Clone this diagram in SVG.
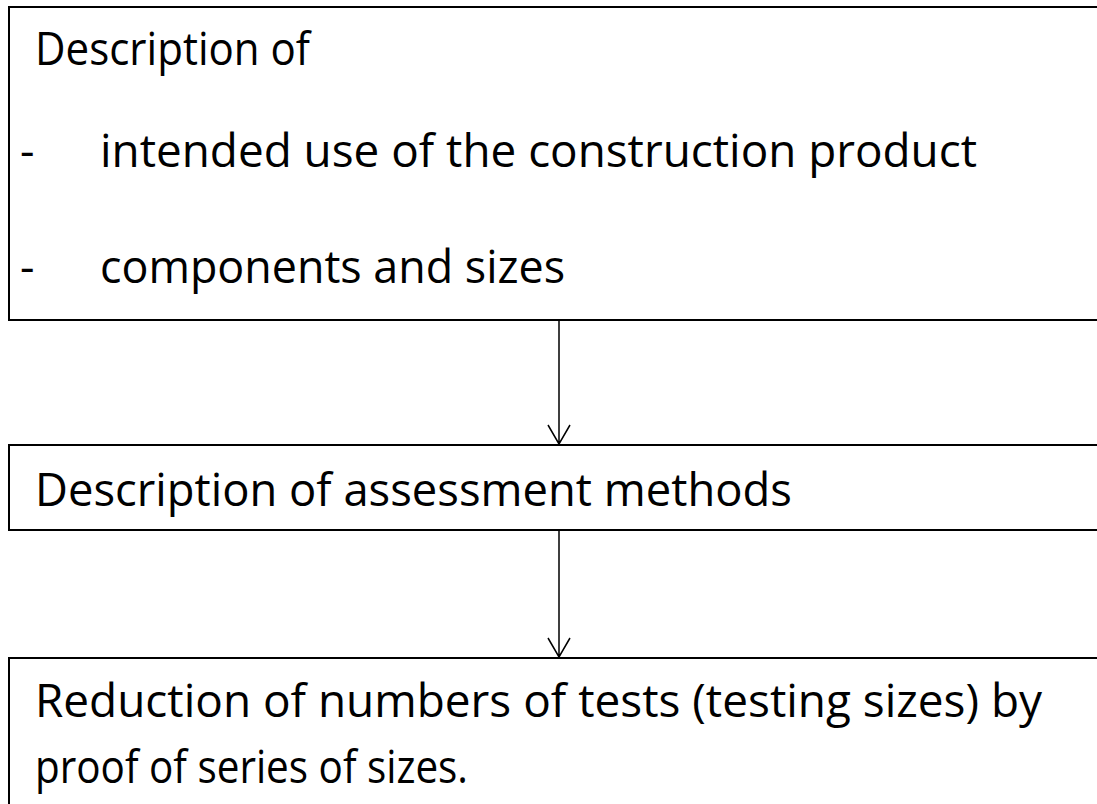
<svg xmlns="http://www.w3.org/2000/svg" width="1097" height="804" viewBox="0 0 1097 804">
<style>
.box{fill:#fff;stroke:#000;stroke-width:2}
.t{font-family:"Open Sans","Noto Sans","Liberation Sans",sans-serif;font-size:45px;fill:#000}
.c{stroke:#000;stroke-width:1.5;fill:none}
</style>
<rect width="1097" height="804" fill="#fff"/>
<g id="node1">
<rect class="box" x="9" y="7" width="1100" height="313"/>
<text class="t" x="35" y="65" textLength="275" lengthAdjust="spacingAndGlyphs">Description of</text>
<text class="t" x="20" y="167">-</text>
<text class="t" x="100" y="167" textLength="877" lengthAdjust="spacingAndGlyphs">intended use of the construction product</text>
<text class="t" x="20" y="283">-</text>
<text class="t" x="100" y="283" textLength="465" lengthAdjust="spacingAndGlyphs">components and sizes</text>
</g>
<g id="node2">
<rect class="box" x="9" y="445" width="1100" height="85"/>
<text class="t" x="35" y="506" textLength="757" lengthAdjust="spacingAndGlyphs">Description of assessment methods</text>
</g>
<g id="node3">
<rect class="box" x="9" y="658" width="1100" height="160"/>
<text class="t" x="35" y="717" textLength="1007" lengthAdjust="spacingAndGlyphs">Reduction of numbers of tests (testing sizes) by</text>
<text class="t" x="35" y="783" textLength="433" lengthAdjust="spacingAndGlyphs">proof of series of sizes.</text>
</g>
<g id="connectors">
<path class="c" d="M559 321V444M548 425L559 444L570 425"/>
<path class="c" d="M559 531V657M548 638L559 657L570 638"/>
</g>
</svg>
